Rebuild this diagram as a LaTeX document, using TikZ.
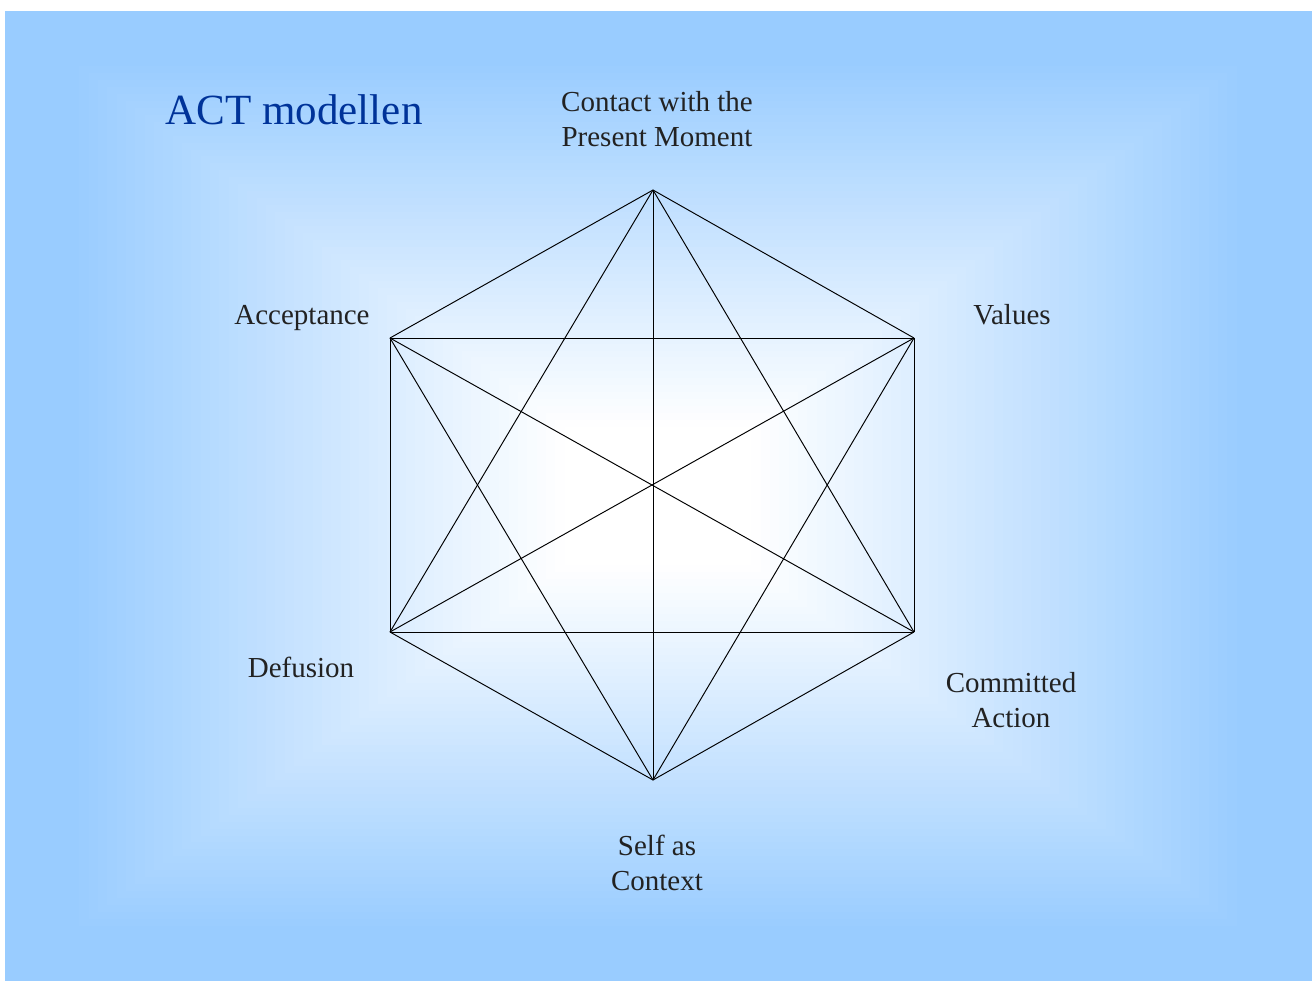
\documentclass[tikz,border=0pt]{standalone}
\usepackage{fontspec}
\setmainfont{Liberation Serif}
\definecolor{bgblue}{RGB}{153,204,255}
\definecolor{titleblue}{RGB}{0,51,153}
\definecolor{labelgray}{RGB}{34,34,34}

\begin{document}
\begin{tikzpicture}[
    x=0.02cm, y=-0.02cm,
    facet/.style={font=\fontsize{16.5pt}{19.8pt}\selectfont, text=labelgray, align=center, inner sep=0pt},
    heading/.style={font=\fontsize{24.5pt}{29pt}\selectfont, text=titleblue, inner sep=0pt},
    link/.style={draw=black, line width=0.55pt}
]
    % page and rectangular blue-to-white backdrop
    \fill[white] (0,0) rectangle (1312,981);
    \foreach \i in {0,...,70} {
        \pgfmathsetmacro{\s}{1-\i/70}
        \pgfmathsetmacro{\w}{100*min(1,max(0,(\s-0.15)/0.75))}
        \fill[bgblue!\w!white] ({658-653.5*\s},{496-485*\s}) rectangle ({658+653.5*\s},{496+485*\s});
    }

    \node[heading] (title) at (294,110) {ACT modellen};

    % corners of the hexaflex
    \coordinate (contact) at (653,190);
    \coordinate (values) at (914,338);
    \coordinate (committed) at (914,632);
    \coordinate (self) at (653,780);
    \coordinate (defusion) at (390,632);
    \coordinate (acceptance) at (390,338);

    % every corner joined to every other one
    \foreach \a/\b in {contact/values, values/committed, committed/self, self/defusion,
                       defusion/acceptance, acceptance/contact,
                       contact/committed, contact/self, contact/defusion,
                       values/self, values/defusion, values/acceptance,
                       committed/defusion, committed/acceptance, self/acceptance} {
        \draw[link] (\a) -- (\b);
    }

    \node[facet] (contactlbl) at (657,119) {Contact with the\\Present Moment};
    \node[facet, anchor=base] (valueslbl) at (1012,324) {Values};
    \node[facet] (committedlbl) at (1011,700) {Committed\\Action};
    \node[facet] (selflbl) at (657,863) {Self as\\Context};
    \node[facet, anchor=base] (defusionlbl) at (301,677) {Defusion};
    \node[facet, anchor=base] (acceptancelbl) at (302,324) {Acceptance};
\end{tikzpicture}
\end{document}
